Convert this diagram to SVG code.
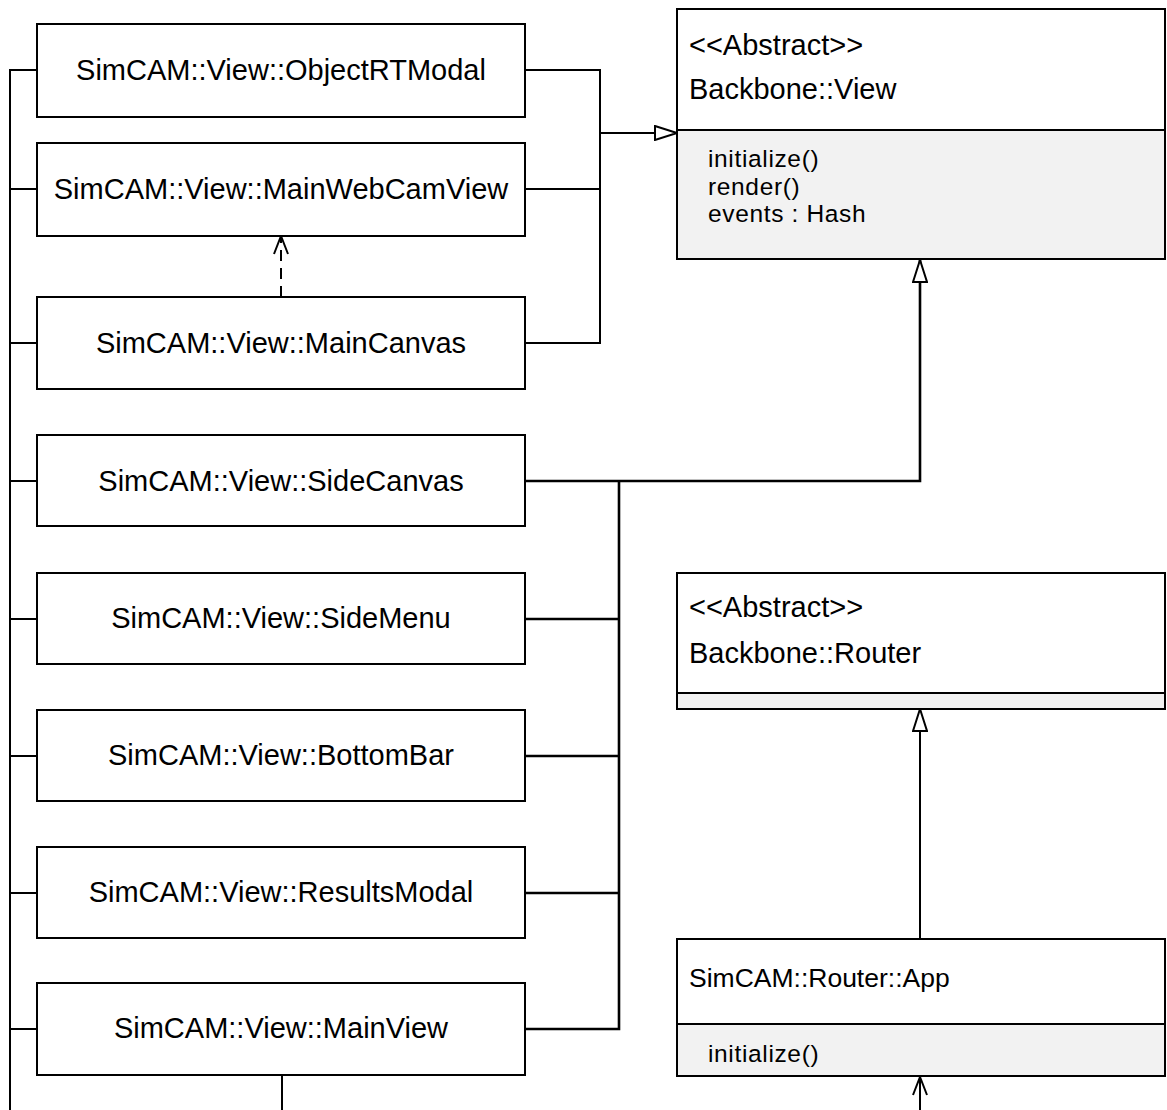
<svg xmlns="http://www.w3.org/2000/svg" width="1167" height="1110" viewBox="0 0 1167 1110">
<style>
.box{fill:#ffffff;stroke:#000;stroke-width:2}
.comp{fill:#f2f2f2;stroke:#000;stroke-width:2}
.lbl{font-family:"Liberation Sans",Arial,sans-serif;font-size:29px;fill:#000;text-anchor:middle}
.txt{font-family:"Liberation Sans",Arial,sans-serif;font-size:29px;fill:#000}
.app{font-family:"Liberation Sans",Arial,sans-serif;font-size:26.5px;fill:#000}
.att{font-family:"Liberation Sans",Arial,sans-serif;font-size:24.5px;letter-spacing:0.65px;fill:#000}
.ln{fill:none;stroke:#000;stroke-width:2}
.thick{fill:none;stroke:#000;stroke-width:2.6}
.dash{fill:none;stroke:#000;stroke-width:2;stroke-dasharray:11 7}
</style>
<defs>
<marker id="tri" viewBox="0 0 24 16" refX="23" refY="8" markerWidth="24" markerHeight="16" markerUnits="userSpaceOnUse" orient="auto">
<path d="M1,1 L23,8 L1,15 Z" fill="#fff" stroke="#000" stroke-width="2"/>
</marker>
<marker id="open" viewBox="0 0 20 16" refX="19" refY="8" markerWidth="20" markerHeight="16" markerUnits="userSpaceOnUse" orient="auto">
<path d="M1,1 L19,8 L1,15" fill="none" stroke="#000" stroke-width="2"/>
</marker>
</defs>
<g id="connectors">
<path class="ln" d="M37,70 H10 V1110 M10,189 H37 M10,343 H37 M10,481 H37 M10,619 H37 M10,756 H37 M10,893 H37 M10,1029 H37"/>
<path class="ln" d="M525,70 H600 V343 H525 M525,189 H600"/>
<path class="ln" d="M600,133 H677" marker-end="url(#tri)"/>
<path class="thick" d="M525,481 H920 V260" marker-end="url(#tri)"/>
<path class="thick" d="M619,481 V1029 H525 M619,619 H525 M619,756 H525 M619,893 H525"/>
<path class="dash" d="M281,297 V236" marker-end="url(#open)"/>
<path class="ln" d="M920,938 V709" marker-end="url(#tri)"/>
<path class="ln" d="M920,1110 V1077" marker-end="url(#open)"/>
<path class="ln" d="M282,1075 V1110"/>
</g>
<g id="objectRTModal"><rect class="box" x="37" y="24" width="488" height="93"/><text class="lbl" x="281" y="80">SimCAM::View::ObjectRTModal</text></g>
<g id="mainWebCamView"><rect class="box" x="37" y="143" width="488" height="93"/><text class="lbl" x="281" y="199">SimCAM::View::MainWebCamView</text></g>
<g id="mainCanvas"><rect class="box" x="37" y="297" width="488" height="92"/><text class="lbl" x="281" y="353">SimCAM::View::MainCanvas</text></g>
<g id="sideCanvas"><rect class="box" x="37" y="435" width="488" height="91"/><text class="lbl" x="281" y="491">SimCAM::View::SideCanvas</text></g>
<g id="sideMenu"><rect class="box" x="37" y="573" width="488" height="91"/><text class="lbl" x="281" y="628">SimCAM::View::SideMenu</text></g>
<g id="bottomBar"><rect class="box" x="37" y="710" width="488" height="91"/><text class="lbl" x="281" y="765">SimCAM::View::BottomBar</text></g>
<g id="resultsModal"><rect class="box" x="37" y="847" width="488" height="91"/><text class="lbl" x="281" y="902">SimCAM::View::ResultsModal</text></g>
<g id="mainView"><rect class="box" x="37" y="983" width="488" height="92"/><text class="lbl" x="281" y="1038">SimCAM::View::MainView</text></g>
<g id="backboneView">
<rect class="box" x="677" y="9" width="488" height="121"/>
<rect class="comp" x="677" y="130" width="488" height="129"/>
<text class="txt" x="689" y="55">&lt;&lt;Abstract&gt;&gt;</text>
<text class="txt" x="689" y="99">Backbone::View</text>
<text class="att" x="708" y="167">initialize()</text>
<text class="att" x="708" y="194.5">render()</text>
<text class="att" x="708" y="222">events : Hash</text>
</g>
<g id="backboneRouter">
<rect class="box" x="677" y="573" width="488" height="120"/>
<rect class="comp" x="677" y="693" width="488" height="16"/>
<text class="txt" x="689" y="617">&lt;&lt;Abstract&gt;&gt;</text>
<text class="txt" x="689" y="663">Backbone::Router</text>
</g>
<g id="routerApp">
<rect class="box" x="677" y="939" width="488" height="85"/>
<rect class="comp" x="677" y="1024" width="488" height="52"/>
<text class="app" x="689" y="987">SimCAM::Router::App</text>
<text class="att" x="708" y="1062">initialize()</text>
</g>
</svg>
